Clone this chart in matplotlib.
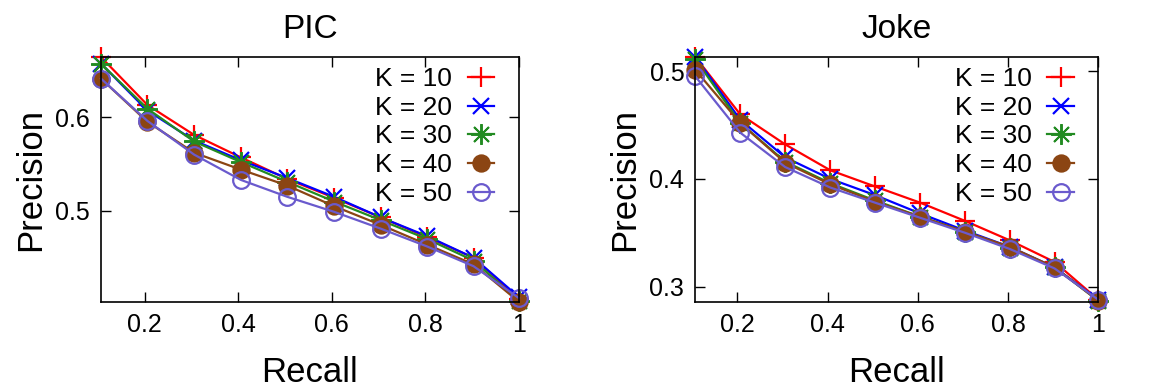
import matplotlib.pyplot as plt

plt.rcParams['font.family'] = ['Liberation Sans', 'DejaVu Sans']

recall = [0.107, 0.206, 0.306, 0.406, 0.505, 0.605, 0.705, 0.804, 0.903, 1.0]
labels = ["K = 10", "K = 20", "K = 30", "K = 40", "K = 50"]

pic = {
    "K = 10": [0.664, 0.613, 0.581, 0.557, 0.534, 0.514, 0.493, 0.472, 0.450, 0.406],
    "K = 20": [0.657, 0.607, 0.575, 0.554, 0.535, 0.515, 0.493, 0.473, 0.450, 0.408],
    "K = 30": [0.657, 0.609, 0.574, 0.552, 0.531, 0.510, 0.490, 0.470, 0.447, 0.404],
    "K = 40": [0.641, 0.595, 0.562, 0.544, 0.527, 0.505, 0.485, 0.464, 0.443, 0.403],
    "K = 50": [0.641, 0.596, 0.560, 0.533, 0.515, 0.499, 0.481, 0.462, 0.441, 0.407],
}

joke = {
    "K = 10": [0.513, 0.460, 0.432, 0.408, 0.393, 0.378, 0.361, 0.343, 0.323, 0.288],
    "K = 20": [0.513, 0.455, 0.420, 0.400, 0.385, 0.368, 0.352, 0.337, 0.318, 0.288],
    "K = 30": [0.511, 0.452, 0.416, 0.396, 0.380, 0.365, 0.351, 0.336, 0.318, 0.287],
    "K = 40": [0.501, 0.452, 0.415, 0.395, 0.379, 0.365, 0.351, 0.337, 0.318, 0.287],
    "K = 50": [0.495, 0.443, 0.411, 0.392, 0.378, 0.364, 0.350, 0.335, 0.317, 0.288],
}

styles = {
    "K = 10": dict(color='#ff0000', marker='+', markersize=15, markeredgewidth=1.6),
    "K = 20": dict(color='#0000ff', marker='x', markersize=12, markeredgewidth=1.6),
    "K = 30": dict(color='#228b22', marker=(8, 2, 0), markersize=15, markeredgewidth=1.4),
    "K = 40": dict(color='#8b4513', marker='o', markersize=12, markeredgewidth=1.2),
    "K = 50": dict(color='#6a5acd', marker='o', markersize=12, markeredgewidth=1.6,
                   markerfacecolor='none'),
}

fig = plt.figure(figsize=(11.61, 3.91), dpi=100)
ax1 = fig.add_axes([0.087, 0.228, 0.360, 0.626])
ax2 = fig.add_axes([0.599, 0.228, 0.347, 0.626])

panels = [(ax1, "PIC", pic, (0.403, 0.664), [0.5, 0.6]),
          (ax2, "Joke", joke, (0.286, 0.513), [0.3, 0.4, 0.5])]

for ax, title, data, ylim, yticks in panels:
    for k in labels:
        ax.plot(recall, data[k], label=k, linewidth=1.6, clip_on=False, **styles[k])
    ax.set_xlim(recall[0], 1.0)
    ax.set_ylim(*ylim)
    ax.set_xticks([0.2, 0.4, 0.6, 0.8, 1.0])
    ax.set_xticklabels(["0.2", "0.4", "0.6", "0.8", "1"])
    ax.set_yticks(yticks)
    ax.set_yticklabels([f"{v:.1f}" for v in yticks])
    ax.tick_params(direction='in', top=True, right=True, length=7, width=1,
                   labelsize=18, pad=8)
    for s in ax.spines.values():
        s.set_linewidth(1.2)
    ax.set_title(title, fontsize=24, pad=14)
    ax.set_xlabel("Recall", fontsize=25, labelpad=14)
    ax.set_ylabel("Precision", fontsize=25, labelpad=6)
    ax.legend(loc='upper right', frameon=False, fontsize=19, markerfirst=False,
              handlelength=1.0, handletextpad=0.6, labelspacing=0.18,
              borderaxespad=0.3, bbox_to_anchor=(0.985, 1.035))

plt.savefig("out.png", dpi=100)
plt.close()
